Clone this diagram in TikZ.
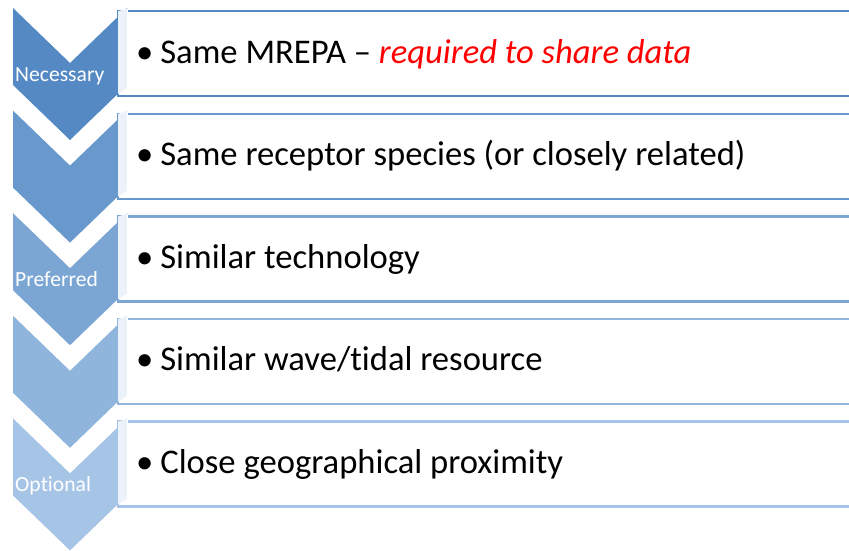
\documentclass[tikz,border=0pt]{standalone}
\usepackage{fontspec}
\setmainfont{Carlito}[Ligatures=NoCommon]
\usetikzlibrary{positioning}
\usetikzlibrary{calc}
\definecolor{row1}{RGB}{84,137,196}
\definecolor{row2}{RGB}{104,152,204}
\definecolor{row3}{RGB}{123,166,212}
\definecolor{row4}{RGB}{143,181,221}
\definecolor{row5}{RGB}{166,196,230}
\definecolor{stripfill}{RGB}{236,242,250}

\begin{document}
\begin{tikzpicture}[x=1pt, y=-1pt,
	chevron/.style={fill=#1, draw=none},
	entrybox/.style={draw=#1, line width=2.4pt, fill=white, rectangle, anchor=north west, minimum width=760pt, minimum height=85pt, inner sep=0pt},
	entrytext/.style={anchor=base west, inner sep=0pt, font=\fontsize{34.6}{40}\selectfont},
	steplabel/.style={anchor=base west, inner sep=0pt, text=white, font=\fontsize{21.6}{26}\selectfont}]
	\useasboundingbox (0,0) rectangle (849,550);
	% chevrons
	\foreach \iRow [evaluate=\iRow as \yTop using 8+102.6*(\iRow-1)] in {1,...,5}
	{
		\path[chevron=row\iRow] (13,\yTop) -- (70,\yTop+55) -- (127,\yTop) -- (127,\yTop+77) -- (70,\yTop+132) -- (13,\yTop+77) -- cycle;
	}
	% boxes and texts
	\foreach \txt [count=\iRow, evaluate=\iRow as \yTop using 8+102.6*(\iRow-1)] in {{Same MREPA -- \textcolor{red}{\itshape required to share data}}, {Same receptor species (or closely related)}, {Similar technology}, {Similar wave/tidal resource}, {Close geographical proximity}}
	{
		\node[entrybox=row\iRow] (box\iRow) at (117,\yTop+2) {};
		\fill[stripfill] (118.2,\yTop+3.2) -- (127,\yTop+0.5) -- (127,\yTop+80) -- (118.2,\yTop+85.8) -- cycle;
		\draw[white, line width=0.8pt] (127,\yTop+0.5) -- (127,\yTop+80);
		\node[entrytext] (txt\iRow) at (136,\yTop+55) {•\hspace{0.2em}\txt};
	}
	% labels
	\node[steplabel] (necessary) at (15,81) {Necessary};
	\node[steplabel] (preferred) at (15,286.2) {Preferred};
	\node[steplabel] (optional) at (15,491.4) {Optional};
\end{tikzpicture}
\end{document}
